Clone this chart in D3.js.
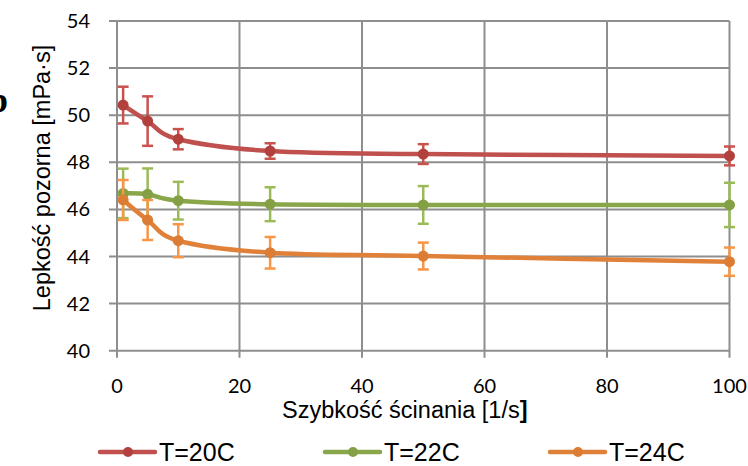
<!DOCTYPE html>
<html><head><meta charset="utf-8">
<script src="https://cdn.jsdelivr.net/npm/d3@7"></script>
<style>body{margin:0;background:#fff}svg{display:block}</style>
</head><body>
<svg id="c" width="748" height="466"></svg>
<script>
const shearRates = [1, 5, 10, 25, 50, 100];
const seriesNames = ["T=20C", "T=22C", "T=24C"];
const visc20 = [50.43, 49.75, 48.98, 48.48, 48.35, 48.27];
const err20  = [0.78, 1.05, 0.43, 0.33, 0.42, 0.40];
const visc22 = [46.68, 46.64, 46.37, 46.22, 46.19, 46.19];
const err22  = [1.05, 1.10, 0.80, 0.72, 0.80, 0.94];
const visc24 = [46.40, 45.55, 44.67, 44.16, 44.02, 43.78];
const err24  = [0.85, 0.85, 0.70, 0.67, 0.57, 0.60];
const yTicks = [40, 42, 44, 46, 48, 50, 52, 54];
const xTicks = [0, 20, 40, 60, 80, 100];

const colors = [
  {line:"#c0504d", marker:"#b2403d", err:"#c9524f"},
  {line:"#8aa64a", marker:"#83a045", err:"#9bbb59"},
  {line:"#e0813a", marker:"#dc7d35", err:"#f79646"}
];
const data = [visc20, visc22, visc24].map((v,i)=>({
  name: seriesNames[i],
  pts: shearRates.map((x,j)=>({x, y:v[j], e:[err20,err22,err24][i][j]})),
  c: colors[i]
}));

const svg = d3.select("#c");
const x = d3.scaleLinear().domain([0,100]).range([117, 729.5]);
const y = d3.scaleLinear().domain([40,54]).range([350.7, 21]);

// gridlines
const grid = svg.append("g").attr("stroke","#8e8e8e").attr("stroke-width",2);
yTicks.forEach(t=>grid.append("line").attr("x1",x(0)-8).attr("x2",x(100)).attr("y1",y(t)).attr("y2",y(t)));
xTicks.forEach(t=>grid.append("line").attr("x1",x(t)).attr("x2",x(t)).attr("y1",y(54)).attr("y2",y(40)+7));

// y tick labels
svg.append("g").selectAll("text").data(yTicks).join("text")
  .attr("x",90).attr("y",d=>y(d)).attr("dy","0.35em").attr("text-anchor","end")
  .attr("font-family","Lato, 'Open Sans', sans-serif").attr("font-size",20).attr("fill","#000")
  .text(d=>d);
// x tick labels
svg.append("g").selectAll("text").data(xTicks).join("text")
  .attr("x",d=>x(d)).attr("y",386).attr("dy","0.35em").attr("text-anchor","middle")
  .attr("font-family","Lato, 'Open Sans', sans-serif").attr("font-size",20).attr("fill","#000")
  .text(d=>d);

// axis titles
const xt = svg.append("text").attr("x",282).attr("y",418)
  .attr("font-family","'Liberation Sans', Arial, sans-serif").attr("font-size",23.5).attr("fill","#000");
xt.append("tspan").text("Szybkość ścinania [1/s");
xt.append("tspan").attr("font-weight","bold").text("]");
svg.append("text").attr("transform","translate(50,178) rotate(-90)").attr("text-anchor","middle")
  .attr("font-family","'Liberation Sans', Arial, sans-serif").attr("font-size",23.5).attr("fill","#000")
  .text("Lepkość pozorna [mPa·s]");

// cut-off panel letter
svg.append("text").attr("x",-12).attr("y",112).attr("font-family","'Liberation Serif', serif")
  .attr("font-weight","bold").attr("font-size",36).attr("fill","#000").text("b");

const line = d3.line().x(d=>x(d.x)).y(d=>y(d.y)).curve(d3.curveCatmullRom.alpha(0));

data.forEach(s=>{
  const g = svg.append("g");
  const eb = g.append("g").attr("stroke",s.c.err).attr("stroke-width",2.5);
  s.pts.forEach(p=>{
    eb.append("line").attr("x1",x(p.x)).attr("x2",x(p.x)).attr("y1",y(p.y-p.e)).attr("y2",y(p.y+p.e));
    eb.append("line").attr("x1",x(p.x)-5.5).attr("x2",x(p.x)+5.5).attr("y1",y(p.y-p.e)).attr("y2",y(p.y-p.e));
    eb.append("line").attr("x1",x(p.x)-5.5).attr("x2",x(p.x)+5.5).attr("y1",y(p.y+p.e)).attr("y2",y(p.y+p.e));
  });
  g.append("path").datum(s.pts).attr("d",line).attr("fill","none")
    .attr("stroke",s.c.line).attr("stroke-width",4.5).attr("stroke-linecap","round");
  g.selectAll("circle").data(s.pts).join("circle")
    .attr("cx",d=>x(d.x)).attr("cy",d=>y(d.y)).attr("r",5.5).attr("fill",s.c.marker);
});

// legend
const legX = [100, 325, 550];
data.forEach((s,i)=>{
  const g = svg.append("g").attr("transform",`translate(${legX[i]},452)`);
  g.append("line").attr("x1",0).attr("x2",55).attr("stroke",s.c.line).attr("stroke-width",4.5).attr("stroke-linecap","round");
  g.append("circle").attr("cx",28).attr("r",5).attr("fill",s.c.marker);
  g.append("text").attr("x",59).attr("y",8.5)
    .attr("font-family","'Liberation Sans', Arial, sans-serif").attr("font-size",25).attr("fill","#000")
    .text(s.name);
});
</script>
</body></html>
